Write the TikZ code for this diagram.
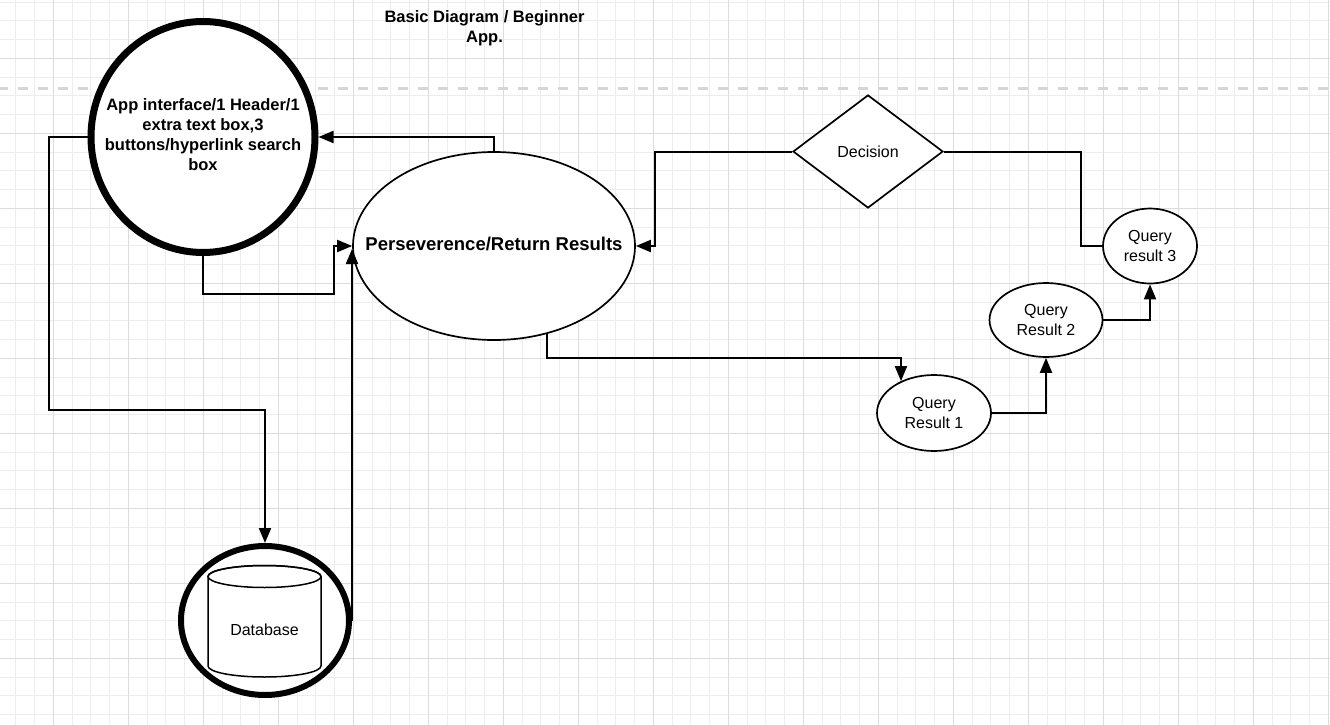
\documentclass[tikz,border=0pt]{standalone}
\usepackage{fontspec}
\setmainfont{Liberation Sans}
\usetikzlibrary{shapes.geometric,arrows.meta}
\definecolor{gridminor}{HTML}{EDEDED}
\definecolor{gridmajor}{HTML}{DCDCDC}
\definecolor{dashgray}{HTML}{D6D6D6}
\tikzset{
  conn/.style={line width=2pt, draw=black},
  arr/.style={conn, -{Triangle[length=15pt,width=12pt]}},
  thinell/.style={ellipse, draw=black, line width=1.7pt, fill=white, inner sep=0pt, align=center, font=\fontsize{16}{20}\selectfont},
  boldtxt/.style={font=\bfseries\fontsize{16.5}{20}\selectfont, align=center},
}
\begin{document}
\begin{tikzpicture}[x=1pt,y=1pt]
\useasboundingbox (0,0) rectangle (1330,-725);
\fill[white] (0,0) rectangle (1330,-725);
% grid
\foreach \i in {0,...,70} \draw[gridminor, line width=1pt] ({15.83+18.75*\i},0) -- ++(0,-725);
\foreach \i in {0,...,38} \draw[gridminor, line width=1pt] (0,{-2.08-18.75*\i}) -- ++(1330,0);
\foreach \i in {0,...,17} \draw[gridmajor, line width=1.3pt] ({53.33+75*\i},0) -- ++(0,-725);
\foreach \i in {0,...,9} \draw[gridmajor, line width=1.3pt] (0,{-58.33-75*\i}) -- ++(1330,0);
% dashed separator
\draw[dashgray, line width=3pt, dash pattern=on 10pt off 10pt, dash phase=2pt] (0,-88) -- (1330,-88);

% title
\node[boldtxt] (title) at (484.5,-28) {Basic Diagram / Beginner\\App.};

% main nodes (shapes without text, labels on top)
\node[ellipse, draw=black, line width=7pt, fill=white, inner sep=0pt,
      minimum width=224pt, minimum height=231pt] (app) at (203,-137) {};
\node[boldtxt] (applabel) at (203,-135)
  {App interface/1 Header/1\\extra text box,3\\buttons/hyperlink search\\box};
\node[ellipse, draw=black, line width=1.7pt, fill=white, inner sep=0pt,
      minimum width=282pt, minimum height=188pt] (persev) at (494,-246) {};
\node[font=\bfseries\fontsize{18.5}{22}\selectfont] (persevlabel) at (494,-244)
  {Perseverence/Return Results};
\node[ellipse, draw=black, line width=6pt, fill=white, inner sep=0pt,
      minimum width=168pt, minimum height=149pt] (db) at (265,-620.5) {};
% cylinder inside database circle
\filldraw[fill=white, draw=black, line width=1.5pt]
  (208,-576.5) -- (208,-666) arc[start angle=180, end angle=360, x radius=56.5, y radius=11]
  -- (321,-576.5) arc[start angle=0, end angle=180, x radius=56.5, y radius=11] -- cycle;
\draw[black, line width=1.5pt] (264.5,-576.5) ellipse [x radius=56.5, y radius=11];
\node[font=\fontsize{16}{20}\selectfont] (dblabel) at (264.5,-630) {Database};

\node[diamond, draw=black, line width=1.7pt, fill=white, inner sep=0pt,
      minimum width=150pt, minimum height=113pt,
      font=\fontsize{16}{20}\selectfont] (decision) at (868,-151.5) {Decision};

\node[thinell, minimum width=114pt, minimum height=76pt] (qr1) at (934,-413) {Query\\Result 1};
\node[thinell, minimum width=113pt, minimum height=74pt] (qr2) at (1046,-320) {Query\\Result 2};
\node[thinell, minimum width=94pt, minimum height=75pt] (qr3) at (1150,-246) {Query\\result 3};

% helper coordinates
\coordinate (c1) at (334,-294);
\coordinate (c2) at (49,-410);
\coordinate (c3) at (547,-358);
\coordinate (c5) at (1081,-200);
\coordinate (c6) at (655,-200);

% connectors
\draw[arr] (persev.north) |- (app.east);
\draw[arr] (app.south) |- (c1) |- (persev.west);
\draw[arr] (app.west) -| (c2) -| (db.north);
\draw[arr, shorten >=3pt] (db.east) -- (db.east |- persev.west);
\draw[arr] (c3 |- persev.-58.6) -- (c3) -| (qr1.136.8);
\draw[arr] (qr1.east) -| (qr2.south);
\draw[arr] (qr2.east) -| (qr3.south);
\draw[conn] (decision.east) -| (c5) |- (qr3.west);
\draw[arr] (decision.west) -| (c6) |- (persev.east);
\end{tikzpicture}
\end{document}
